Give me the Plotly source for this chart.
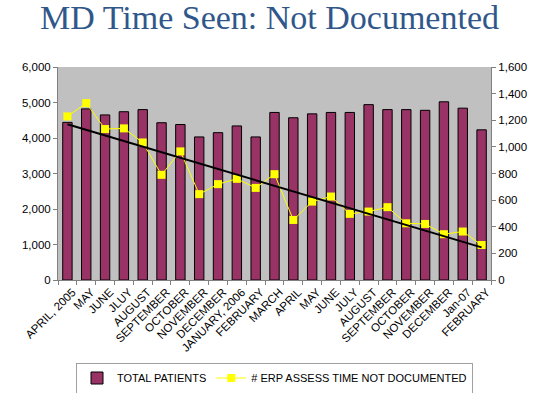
import numpy as np
import plotly.graph_objects as go

months = ["APRIL, 2005", "MAY", "JUNE", "JLUY", "AUGUST", "SEPTEMBER", "OCTOBER",
          "NOVEMBER", "DECEMBER", "JANUARY, 2006", "FEBRUARY", "MARCH", "APRIL",
          "MAY", "JUNE", "JULY", "AUGUST", "SEPTEMBER", "OCTOBER", "NOVEMBER",
          "DECEMBER", "Jan-07", "FEBRUARY"]
total_patients = [4440, 4820, 4650, 4740, 4800, 4430, 4380, 4030, 4150, 4340, 4030,
                  4720, 4570, 4680, 4720, 4720, 4940, 4800, 4800, 4780, 5020, 4840, 4230]
not_documented = [1229, 1329, 1134, 1139, 1033, 790, 966, 645, 720, 760, 692,
                  795, 451, 589, 627, 497, 514, 547, 426, 421, 344, 364, 263]

x = np.arange(1, len(months) + 1)
slope, intercept = np.polyfit(x, not_documented, 1)
trend = slope * x + intercept

fig = go.Figure()
fig.add_trace(go.Bar(
    x=x, y=total_patients, name="TOTAL PATIENTS",
    marker=dict(color="#993366", line=dict(color="black", width=1)),
    width=0.5,
))
fig.add_trace(go.Scatter(
    x=x, y=not_documented, name="# ERP ASSESS TIME NOT DOCUMENTED", yaxis="y2",
    mode="lines+markers", line=dict(color="#FFFF00", width=1),
    marker=dict(symbol="square", size=8, color="#FFFF00"),
))
fig.add_trace(go.Scatter(
    x=[x[0], x[-1]], y=[trend[0], trend[-1]], yaxis="y2", mode="lines",
    line=dict(color="black", width=2), showlegend=False, hoverinfo="skip",
))

fig.update_layout(
    width=539, height=393,
    paper_bgcolor="white", plot_bgcolor="#C0C0C0",
    margin=dict(l=58, r=48, t=67, b=113, autoexpand=False),
    title=dict(text="MD Time Seen: Not Documented", x=0.5, xanchor="center",
               yref="container", y=1 - 17 / 393, yanchor="middle", automargin=False,
               font=dict(family="Liberation Serif", size=34, color="#30578A")),
    font=dict(family="Liberation Sans, Arial", size=10, color="black"),
    xaxis=dict(
        tickvals=list(x), ticktext=months, tickangle=-45, range=[0.5, len(months) + 0.5],
        showgrid=False, zeroline=False, showline=True, linecolor="#808080",
        ticks="", tickfont=dict(size=11.5), automargin=False, ticklabelshift=5,
        minor=dict(tickmode="linear", tick0=0.5, dtick=1, ticks="outside",
                   ticklen=4, tickcolor="#808080", showgrid=False),
    ),
    yaxis=dict(
        range=[0, 6000], dtick=1000, tickformat=",d", showgrid=False, zeroline=False,
        showline=True, linecolor="#808080", ticks="outside", ticklen=4,
        tickcolor="#808080", tickfont=dict(size=11.5), automargin=False,
    ),
    yaxis2=dict(
        range=[0, 1600], dtick=200, tickformat=",d", overlaying="y", side="right",
        showgrid=False, zeroline=False, showline=True, linecolor="#808080",
        ticks="outside", ticklen=4, tickcolor="#808080", tickfont=dict(size=11.5),
        automargin=False,
    ),
    legend=dict(
        orientation="h", x=0.5, xanchor="center", yref="container",
        y=1 - 378 / 393, yanchor="middle",
        bordercolor="#A0A0A0", borderwidth=1, font=dict(size=11),
        itemwidth=30, tracegroupgap=0,
    ),
)

fig.write_html("out.html", config={"displayModeBar": False},
               post_script="document.body.style.margin='0';document.body.style.overflow='hidden';")
